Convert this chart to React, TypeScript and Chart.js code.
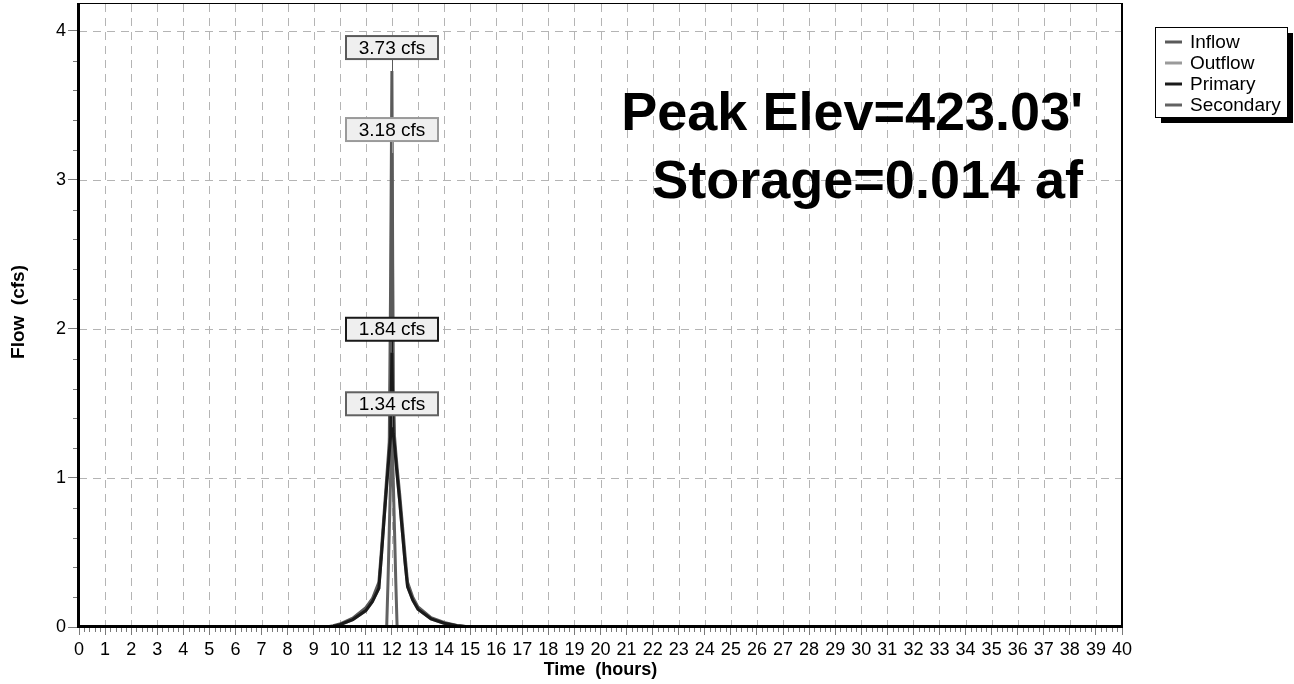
import React, { useEffect, useRef } from "react";
import { Chart, registerables } from "chart.js";

Chart.register(...registerables);

// ---- data (hours / cfs) ----
const times = [0, 9.5, 9.75, 10, 10.5, 11, 11.25, 11.5, 11.6, 11.7, 11.8, 11.85, 11.9, 11.95, 12, 12.05, 12.1, 12.15, 12.2, 12.3, 12.4, 12.5, 12.6, 12.8, 13, 13.5, 14, 14.5, 15, 40];
const inflow = [0, 0, 0.008, 0.02, 0.06, 0.13, 0.19, 0.3, 0.52, 0.76, 1.0, 1.12, 1.24, 2.3, 3.73, 1.6, 1.28, 1.17, 1.07, 0.89, 0.69, 0.49, 0.3, 0.2, 0.135, 0.062, 0.03, 0.01, 0, 0];
const outflow = [0, 0, 0.005, 0.015, 0.05, 0.11, 0.17, 0.26, 0.48, 0.72, 0.95, 1.06, 1.2, 1.7, 3.18, 1.6, 1.22, 1.12, 1.02, 0.84, 0.64, 0.44, 0.27, 0.18, 0.12, 0.055, 0.025, 0.008, 0, 0];
const primary = [0, 0, 0.005, 0.015, 0.05, 0.11, 0.17, 0.26, 0.48, 0.72, 0.95, 1.06, 1.17, 1.28, 1.84, 1.3, 1.22, 1.12, 1.02, 0.84, 0.64, 0.44, 0.27, 0.18, 0.12, 0.055, 0.025, 0.008, 0, 0];
const secondary = [0, 0, 0, 0, 0, 0, 0, 0, 0, 0, 0, 0.3, 0.65, 1.0, 1.34, 1.0, 0.65, 0.3, 0, 0, 0, 0, 0, 0, 0, 0, 0, 0, 0, 0];

const seriesNames = ["Inflow", "Outflow", "Primary", "Secondary"];
const seriesValues = [inflow, outflow, primary, secondary];
const seriesColors = ["#5a5a5a", "#9a9a9a", "#1a1a1a", "#626262"];
const seriesOrder = [2, 3, 0, 1];
const peakLabels = ["3.73 cfs", "3.18 cfs", "1.84 cfs", "1.34 cfs"];

const xMin = 0;
const xMax = 40;
const yMin = 0;
const yMax = 4.18;
const infoLines = ["Peak Elev=423.03'", "Storage=0.014 af"];
const xTitle = "Time  (hours)";
const yTitle = "Flow  (cfs)";

const FONT = "'Liberation Sans', Arial, Helvetica, sans-serif";

const decor = {
  id: "decor",
  beforeDatasetsDraw(chart: any) {
    const { ctx, chartArea: a, scales } = chart;
    const x = scales.x;
    const y = scales.y;
    ctx.save();
    ctx.strokeStyle = "#b4b4b4";
    ctx.lineWidth = 1;
    ctx.setLineDash([8, 6]);
    for (let v = xMin + 1; v < xMax; v++) {
      const px = Math.round(x.getPixelForValue(v)) + 0.5;
      ctx.beginPath();
      ctx.moveTo(px, a.top);
      ctx.lineTo(px, a.bottom);
      ctx.stroke();
    }
    for (let v = 1; v <= 4; v++) {
      const py = Math.round(y.getPixelForValue(v)) + 0.5;
      ctx.beginPath();
      ctx.moveTo(a.left, py);
      ctx.lineTo(a.right, py);
      ctx.stroke();
    }
    ctx.restore();
  },
  afterDraw(chart: any) {
    const { ctx, chartArea: a, scales } = chart;
    const x = scales.x;
    const y = scales.y;
    ctx.save();
    ctx.setLineDash([]);
    // minor ticks
    ctx.strokeStyle = "#7a7a7a";
    ctx.lineWidth = 1;
    for (let i = 1; i < (xMax - xMin) * 5; i++) {
      if (i % 5 === 0) continue;
      const px = Math.round(x.getPixelForValue(xMin + i * 0.2)) + 0.5;
      ctx.beginPath();
      ctx.moveTo(px, a.bottom);
      ctx.lineTo(px, a.bottom + 5);
      ctx.stroke();
    }
    for (let i = 1; i < 21; i++) {
      if (i % 5 === 0) continue;
      const py = Math.round(y.getPixelForValue(i * 0.2)) + 0.5;
      ctx.beginPath();
      ctx.moveTo(a.left - 6, py);
      ctx.lineTo(a.left, py);
      ctx.stroke();
    }
    // frame
    ctx.fillStyle = "#000";
    ctx.fillRect(a.left, a.top - 1, a.right - a.left, 1);
    ctx.fillRect(a.right - 1, a.top - 1, 2, a.bottom - a.top + 1);
    ctx.fillRect(a.left - 2, a.top - 1, 3, a.bottom - a.top + 2);
    ctx.fillRect(a.left - 2, a.bottom - 2, a.right - a.left + 3, 3);

    // peak labels
    ctx.font = `19px ${FONT}`;
    ctx.textAlign = "center";
    ctx.textBaseline = "middle";
    seriesValues.forEach((vals, si) => {
      let mi = 0;
      vals.forEach((v, i) => {
        if (v > vals[mi]) mi = i;
      });
      const px = Math.round(x.getPixelForValue(times[mi]));
      const py = y.getPixelForValue(vals[mi]);
      const w = 92;
      const h = 23;
      const bx = px - w / 2;
      const by = py - 12 - h;
      ctx.strokeStyle = seriesColors[si];
      ctx.lineWidth = 1;
      ctx.beginPath();
      ctx.moveTo(px + 0.5, by + h);
      ctx.lineTo(px + 0.5, py);
      ctx.stroke();
      ctx.fillStyle = "#efefef";
      ctx.fillRect(bx, by, w, h);
      ctx.lineWidth = 2;
      ctx.strokeRect(bx, by, w, h);
      ctx.fillStyle = "#000";
      ctx.fillText(peakLabels[si], px, by + h / 2 + 1);
    });

    // info text
    ctx.font = `bold 54px ${FONT}`;
    ctx.textAlign = "right";
    ctx.textBaseline = "alphabetic";
    ctx.fillStyle = "#000";
    ctx.fillText(infoLines[0], 1083, 130);
    ctx.fillText(infoLines[1], 1083, 198);

    // axis titles
    ctx.font = `bold 18px ${FONT}`;
    ctx.textAlign = "center";
    ctx.textBaseline = "middle";
    ctx.fillText(xTitle, (a.left + a.right) / 2, 670);
    ctx.font = `bold 19px ${FONT}`;
    ctx.save();
    ctx.translate(19, 312);
    ctx.rotate(-Math.PI / 2);
    ctx.fillText(yTitle, 0, 0);
    ctx.restore();

    // legend
    const lx = 1155;
    const ly = 27;
    const lw = 132;
    const lh = 90;
    ctx.fillStyle = "#000";
    ctx.fillRect(lx + 6, ly + 6, lw, lh);
    ctx.fillStyle = "#fff";
    ctx.fillRect(lx, ly, lw, lh);
    ctx.strokeStyle = "#000";
    ctx.lineWidth = 1;
    ctx.strokeRect(lx + 0.5, ly + 0.5, lw, lh);
    ctx.font = `19px ${FONT}`;
    ctx.textAlign = "left";
    ctx.textBaseline = "middle";
    seriesNames.forEach((n, i) => {
      const ry = ly + 15 + i * 21;
      ctx.strokeStyle = seriesColors[i];
      ctx.lineWidth = 3;
      ctx.beginPath();
      ctx.moveTo(lx + 10, ry);
      ctx.lineTo(lx + 27, ry);
      ctx.stroke();
      ctx.fillStyle = "#000";
      ctx.fillText(n, lx + 35, ry + 1);
    });
    ctx.restore();
  },
};

export default function App() {
  const ref = useRef<HTMLCanvasElement | null>(null);
  useEffect(() => {
    if (!ref.current) return;
    const datasets = seriesNames.map((n, si) => ({
      label: n,
      data: times.map((t, i) => ({ x: t, y: seriesValues[si][i] })),
      borderColor: seriesColors[si],
      backgroundColor: seriesColors[si],
      borderWidth: 3,
      pointRadius: 0,
      tension: 0,
      fill: false,
      order: seriesOrder[si],
    }));
    const noPad = (s: any) => {
      s.paddingTop = 0;
      s.paddingBottom = 0;
      s.paddingLeft = 0;
      s.paddingRight = 0;
    };
    const chart = new Chart(ref.current, {
      type: "line",
      data: { datasets },
      options: {
        responsive: false,
        animation: false,
        events: [],
        layout: { padding: { top: 4, right: 172, left: 0, bottom: 0 } },
        plugins: { legend: { display: false }, tooltip: { enabled: false }, title: { display: false } },
        scales: {
          x: {
            type: "linear",
            min: xMin,
            max: xMax,
            ticks: {
              stepSize: 1,
              autoSkip: false,
              maxRotation: 0,
              color: "#000",
              padding: 4,
              font: { family: FONT, size: 18 },
            },
            grid: { drawOnChartArea: false, drawTicks: true, tickLength: 8, tickColor: "#7a7a7a", lineWidth: 1 },
            border: { display: false },
            afterFit: (s: any) => {
              s.height = 57;
              noPad(s);
            },
          },
          y: {
            type: "linear",
            min: yMin,
            max: yMax,
            ticks: {
              stepSize: 1,
              color: "#000",
              padding: 2,
              font: { family: FONT, size: 18 },
            },
            afterBuildTicks: (s: any) => {
              s.ticks = s.ticks.filter((t: any) => Math.abs(t.value - Math.round(t.value)) < 1e-9);
            },
            grid: { drawOnChartArea: false, drawTicks: true, tickLength: 11, tickColor: "#7a7a7a", lineWidth: 1 },
            border: { display: false },
            afterFit: (s: any) => {
              s.width = 79;
              noPad(s);
            },
          },
        },
      },
      plugins: [decor],
    });
    return () => chart.destroy();
  }, []);
  return (
    <div style={{ position: "absolute", left: 0, top: 0, width: 1294, height: 684, background: "#fff" }}>
      <canvas ref={ref} width={1294} height={684} style={{ display: "block" }} />
    </div>
  );
}
